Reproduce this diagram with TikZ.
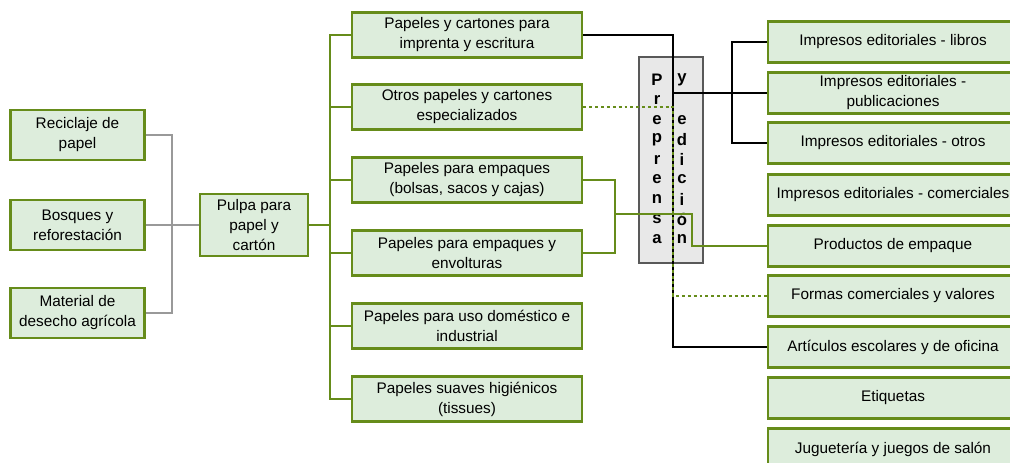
\documentclass[tikz,border=0pt]{standalone}
\usepackage{fontspec}
\setmainfont{Liberation Sans}
\usepackage{xcolor}
\usetikzlibrary{calc}
\definecolor{olivo}{HTML}{668C1A}
\definecolor{hoja}{HTML}{DDEDDC}
\definecolor{gris}{HTML}{999999}
\tikzset{
  caja/.style={draw=olivo,line width=2.2pt,fill=hoja,align=center,
    inner sep=0pt,font=\fontsize{11.5}{15}\selectfont},
  cajaizq/.style={caja,minimum width=101pt,minimum height=37.5pt},
  cajamed/.style={caja,minimum width=172.5pt,minimum height=33.75pt},
  cajader/.style={caja,minimum width=187.5pt,minimum height=30.75pt},
  verde/.style={draw=olivo,line width=1.5pt},
  negro/.style={draw=black,line width=1.5pt},
  punteado/.style={draw=olivo,line width=1.5pt,dash pattern=on 2.2pt off 2.2pt},
  letra/.style={font=\bfseries\fontsize{12.5}{12.5}\selectfont,inner sep=0pt},
}
\begin{document}
\begin{tikzpicture}[x=0.75pt,y=-0.75pt]
    \useasboundingbox (0,0) rectangle (1010,463);

    % materias primas
    \node[cajaizq] (recic) at (77.5,135) {Reciclaje de\\papel};
    \node[cajaizq] (bosq) at (77.5,225) {Bosques y\\reforestación};
    \node[cajaizq] (mater) at (77.5,313) {Material de\\desecho agrícola};
    \node[caja,minimum width=81pt,minimum height=46.5pt] (pulpa) at (254,225)
      {Pulpa para\\papel y\\cartón};

    % papeles
    \node[cajamed] (p1) at (467,35) {Papeles y cartones para\\imprenta y escritura};
    \node[cajamed] (p2) at (467,107) {Otros papeles y cartones\\especializados};
    \node[cajamed] (p3) at (467,180) {Papeles para empaques\\(bolsas, sacos y cajas)};
    \node[cajamed] (p4) at (467,253) {Papeles para empaques y\\envolturas};
    \node[cajamed] (p5) at (467,326) {Papeles para uso doméstico e\\industrial};
    \node[cajamed] (p6) at (467,399) {Papeles suaves higiénicos\\(tissues)};

    % productos finales
    \node[cajader] (r1) at (893,42) {Impresos editoriales - libros};
    \node[cajader] (r2) at (893,93) {Impresos editoriales -\\publicaciones};
    \node[cajader] (r3) at (893,143) {Impresos editoriales - otros};
    \node[cajader] (r4) at (893,195) {Impresos editoriales - comerciales};
    \node[cajader] (r5) at (893,246) {Productos de empaque};
    \node[cajader] (r6) at (893,296) {Formas comerciales y valores};
    \node[cajader] (r7) at (893,347) {Artículos escolares y de oficina};
    \node[cajader] (r8) at (893,398) {Etiquetas};
    \node[cajader] (r9) at (893,449) {Juguetería y juegos de salón};

    % prensa
    \draw[draw=black!65,fill=black!9,line width=1.6pt] (639,57) rectangle (703,263);
    \coordinate (pre) at (657,80);
    \foreach \l [count=\i from 0] in {P,r,e,p,r,e,n,s,a}
      \node[letra] at ($ (pre) + (0,19.9*\i) $) {\l};
    \coordinate (edi) at (682,80);
    \foreach \l [count=\i from 0] in {y,,e,d,i,c,i,ó,n}
      \node[letra] at ($ (edi) + (0,19.9*\i) $) {\l};

    % entradas a la pulpa
    \coordinate (g) at (172,225);
    \draw[gris,line width=1.5pt] (recic.east) -| (g) |- (mater.east);
    \draw[gris,line width=1.5pt] (bosq.east) -- (pulpa.west);

    % tronco verde
    \coordinate (t) at (330,225);
    \draw[verde] (pulpa.east) -- (t);
    \draw[verde] (p1.west) -| (t) |- (p6.west);
    \foreach \n in {p2,p3,p4,p5}
      \draw[verde] (\n.west) -- (\n.west -| t);

    % enlaces negros
    \coordinate (k) at (673,93);
    \coordinate (b) at (732,93);
    \draw[negro] (p1.east) -| (k) -- (r2.west);
    \draw[negro] (k) |- (r7.west);
    \draw[negro] (r1.west) -| (b) |- (r3.west);

    % enlaces de empaque
    \coordinate (e) at (615,214);
    \coordinate (e2) at (692,214);
    \draw[verde] (p3.east) -| (e) |- (p4.east);
    \draw[verde] (e) -- (e2) |- (r5.west);

    % enlace punteado
    \draw[punteado] (p2.east) -| (673,296) -- (r6.west);
\end{tikzpicture}
\end{document}
